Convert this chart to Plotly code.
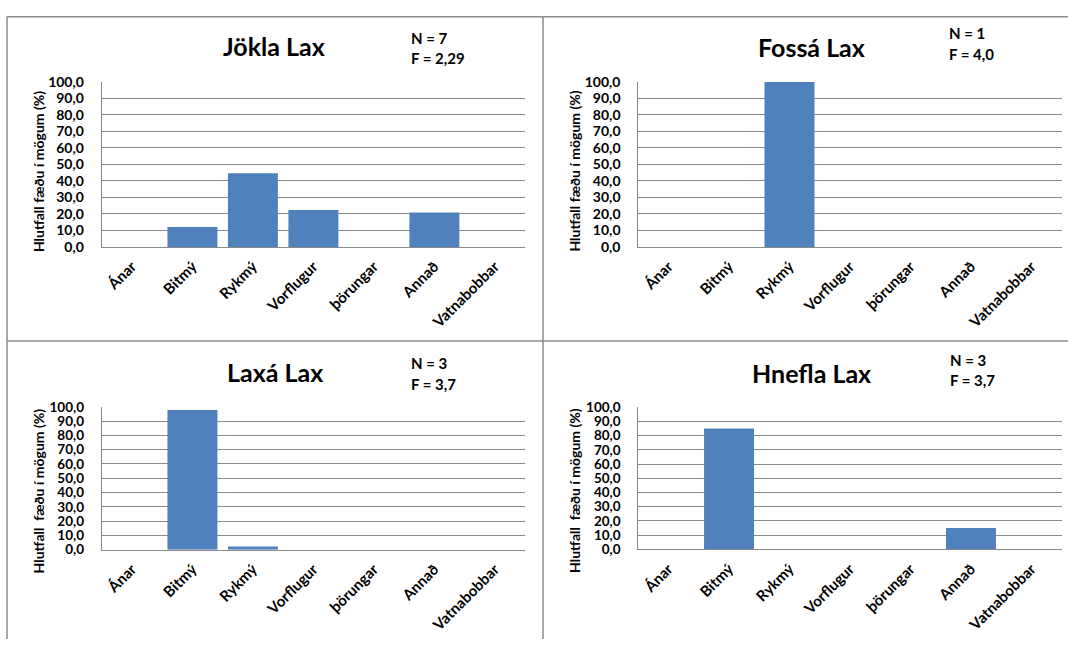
import plotly.graph_objects as go

# ---- data -------------------------------------------------------------
categories = ["Ánar", "Bitmý", "Rykmý", "Vorflugur", "þörungar", "Annað", "Vatnabobbar"]

jokla_lax = [0, 12.1, 44.7, 22.3, 0, 20.9, 0]
fossa_lax = [0, 0, 100.0, 0, 0, 0, 0]
laxa_lax = [0, 97.8, 2.2, 0, 0, 0, 0]
hnefla_lax = [0, 85.0, 0, 0, 0, 15.0, 0]

panel_titles = ["Jökla Lax", "Fossá Lax", "Laxá Lax", "Hnefla Lax"]
n_fish = ["7", "1", "3", "3"]
f_index = ["2,29", "4,0", "3,7", "3,7"]

y_ticks = [0, 10, 20, 30, 40, 50, 60, 70, 80, 90, 100]
y_tick_text = [f"{v:.1f}".replace(".", ",") for v in y_ticks]
y_titles = ["Hlutfall fæðu í mögum (%)", "Hlutfall fæðu í mögum (%)",
            "Hlutfall\u00a0 fæðu í mögum (%)", "Hlutfall\u00a0 fæðu í mögum (%)"]

series = [jokla_lax, fossa_lax, laxa_lax, hnefla_lax]

# ---- layout geometry (pixels in a 1068 x 647 page) ---------------------
W, H = 1068, 647
FONT = "Lato"
BAR = "#4F81BD"
GRID = "#8A8A8A"
BORDER = "#8C8C8C"

# plot boxes: x0, x1, y_top, y_bottom
boxes = [
    (101.7, 525.1, 75.0, 244.3),
    (638.3, 1061.7, 75.0, 244.3),
    (101.7, 525.1, 408.5, 555.3),
    (638.3, 1061.7, 409.0, 555.0),
]
ytick_size = [14, 14, 13.5, 13.5]
title_pos = [(273.5, 38.5), (811.0, 39.5), (274.5, 373.0), (811.5, 373.5)]
nf_pos = [(409.0, 30.0, 50.5), (946.5, 25.0, 46.5), (409.0, 364.0, 385.0), (948.0, 360.0, 380.5)]
ytitle_pos = [(38.5, 167.0), (575.0, 167.0), (38.5, 495.0), (575.0, 495.0)]


def fx(x):
    return x / W


def fy(y):
    return 1 - y / H


fig = go.Figure()
annotations = []

for i, vals in enumerate(series):
    suffix = "" if i == 0 else str(i + 1)
    fig.add_trace(go.Bar(
        x=categories, y=vals,
        xaxis="x" + suffix, yaxis="y" + suffix,
        marker=dict(color=BAR, line=dict(width=0)),
        showlegend=False, hoverinfo="x+y",
    ))

    x0, x1, yt, yb = boxes[i]
    fig.update_layout(**{
        "xaxis" + suffix: dict(
            domain=[fx(x0), fx(x1)], anchor="y" + suffix,
            type="category", categoryorder="array", categoryarray=categories,
            tickangle=-45, showgrid=False, zeroline=False,
            showline=True, linecolor=GRID, linewidth=1,
            ticks="outside", ticklen=4, tickcolor="rgba(0,0,0,0)",
            tickfont=dict(family=FONT, size=15, color="#000000", weight=700),
            fixedrange=True,
        ),
        "yaxis" + suffix: dict(
            domain=[fy(yb), fy(yt)], anchor="x" + suffix,
            range=[0, 100], tickmode="array", tickvals=y_ticks, ticktext=y_tick_text,
            showgrid=True, gridcolor=GRID, gridwidth=1, zeroline=False,
            showline=True, linecolor=GRID, linewidth=1,
            ticks="", ticklabelstandoff=14,
            tickfont=dict(family=FONT, size=ytick_size[i], color="#000000", weight=700),
            fixedrange=True,
        ),
    })

    tx, ty = title_pos[i]
    annotations.append(dict(
        text=f"<b>{panel_titles[i]}</b>", x=fx(tx), y=fy(ty), xref="paper", yref="paper",
        xanchor="center", yanchor="middle", showarrow=False,
        font=dict(family=FONT, size=25, color="#000000"),
    ))
    nx, ny1, ny2 = nf_pos[i]
    annotations.append(dict(
        text=f"<b>N = {n_fish[i]}</b>", x=fx(nx), y=fy(ny1), xref="paper", yref="paper",
        xanchor="left", yanchor="middle", showarrow=False,
        font=dict(family=FONT, size=15, color="#000000"),
    ))
    annotations.append(dict(
        text=f"<b>F = {f_index[i]}</b>", x=fx(nx), y=fy(ny2), xref="paper", yref="paper",
        xanchor="left", yanchor="middle", showarrow=False,
        font=dict(family=FONT, size=15, color="#000000"),
    ))
    ax_, ay_ = ytitle_pos[i]
    annotations.append(dict(
        text=f"<b>{y_titles[i]}</b>", x=fx(ax_), y=fy(ay_), xref="paper", yref="paper",
        xanchor="center", yanchor="middle", textangle=-90, showarrow=False,
        font=dict(family=FONT, size=14, color="#000000"),
    ))

# panel frame lines
shapes = [
    dict(type="line", x0=fx(7), x1=1, y0=fy(8), y1=fy(8)),
    dict(type="line", x0=fx(7), x1=fx(7), y0=fy(8), y1=0),
    dict(type="line", x0=fx(543), x1=fx(543), y0=fy(8), y1=0),
    dict(type="line", x0=fx(7), x1=1, y0=fy(341), y1=fy(341)),
]
for s in shapes:
    s.update(xref="paper", yref="paper", line=dict(color=BORDER, width=1.5), layer="below")

fig.update_layout(
    width=W, height=H,
    margin=dict(l=0, r=0, t=0, b=0),
    paper_bgcolor="#FFFFFF", plot_bgcolor="#FFFFFF",
    bargap=0.174,
    annotations=annotations,
    shapes=shapes,
    font=dict(family=FONT),
)

fig.write_html("out.html")
